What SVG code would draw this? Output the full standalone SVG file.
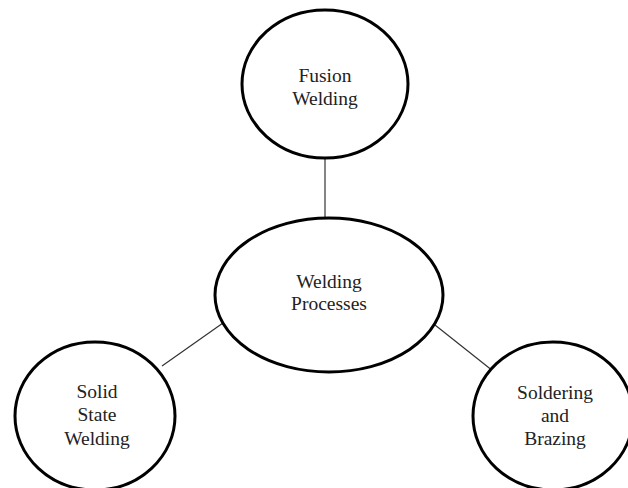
<svg xmlns="http://www.w3.org/2000/svg" width="628" height="488" viewBox="0 0 628 488">
<style>
.node{fill:#fff;stroke:#000;stroke-width:3}
.lbl{font-family:"Liberation Serif","Times New Roman",serif;font-size:19.5px;fill:#222;text-anchor:middle}
.conn{stroke:#333;stroke-width:1.2;fill:none}
</style>
<rect width="628" height="488" fill="#fff"/>
<g id="connectors">
<line class="conn" x1="325" y1="158" x2="325" y2="218"/>
<line class="conn" x1="162" y1="366" x2="223" y2="323"/>
<line class="conn" x1="435" y1="325" x2="493" y2="371"/>
</g>
<g id="fusion">
<ellipse class="node" cx="325" cy="84" rx="83" ry="74"/>
<text class="lbl" x="325" y="82">Fusion</text>
<text class="lbl" x="325" y="105">Welding</text>
</g>
<g id="welding-processes">
<ellipse class="node" cx="329" cy="295" rx="114" ry="77"/>
<text class="lbl" x="329" y="288">Welding</text>
<text class="lbl" x="329" y="310">Processes</text>
</g>
<g id="solid-state">
<ellipse class="node" cx="95" cy="416" rx="80" ry="74"/>
<text class="lbl" x="97" y="398">Solid</text>
<text class="lbl" x="97" y="421">State</text>
<text class="lbl" x="97" y="445">Welding</text>
</g>
<g id="soldering">
<ellipse class="node" cx="553" cy="416" rx="80" ry="74"/>
<text class="lbl" x="555" y="399">Soldering</text>
<text class="lbl" x="555" y="422">and</text>
<text class="lbl" x="555" y="445">Brazing</text>
</g>
</svg>
